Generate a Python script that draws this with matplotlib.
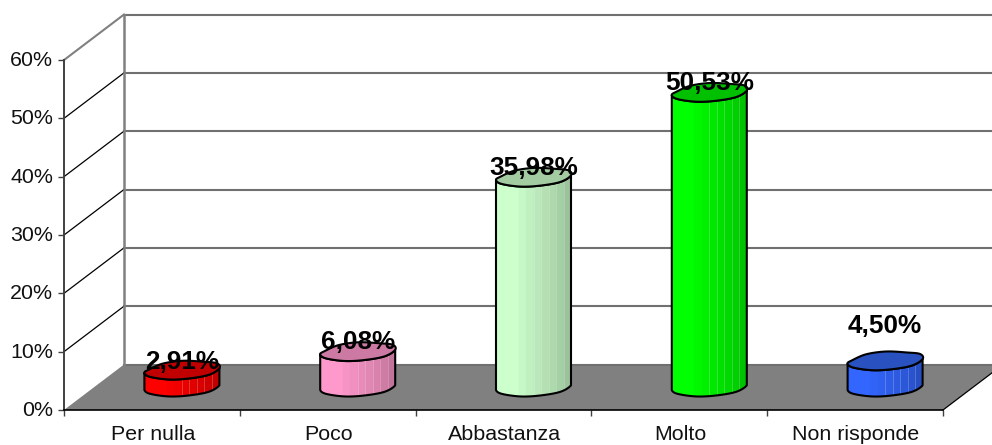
import numpy as np
import matplotlib
matplotlib.use('Agg')
import matplotlib.pyplot as plt
from matplotlib.patches import Polygon
from matplotlib.transforms import ScaledTranslation

plt.rcParams['font.family'] = ['Liberation Sans', 'DejaVu Sans']

categories = ['Per nulla', 'Poco', 'Abbastanza', 'Molto', 'Non risponde']
values = [2.91, 6.08, 35.98, 50.53, 4.50]
value_labels = ['2,91%', '6,08%', '35,98%', '50,53%', '4,50%']
y_ticks = [0, 10, 20, 30, 40, 50, 60]
y_tick_labels = ['0%', '10%', '20%', '30%', '40%', '50%', '60%']

side_colors = ['#ff0000', '#ff99cc', '#ccffcc', '#00ff00', '#3366ff']
top_colors = ['#c00000', '#cc7aa3', '#a3cca3', '#00c000', '#2952c0']
# the last label was moved up by hand in the original
label_lift = [8, 10, 9, 10, 35]

# pixel scale of the picture
px_x = 175.8
px_y = 5.833
depth_x = 60 / px_x
depth_y = 45.5 / px_y

# wobbly outline of a column, left -> front -> right -> back, in pixels
blob_x = np.array([-37.5, -32, -13, 7, 27, 37.5, 35, 22, 1, -19, -33]) / px_x
blob_y = np.array([2.5, 6.5, 9.2, 8.2, 4.5, -2, -7, -8.5, -9.5, -6.7, -0.7]) / px_y * -1
front_end = 5


def smooth(xs, ys, n=12):
    # closed catmull-rom through the points
    t = np.linspace(0, 1, n, endpoint=False)[:, None]
    p = np.column_stack([xs, ys])
    out = []
    for i in range(len(p)):
        p0, p1, p2, p3 = p[i - 1], p[i], p[(i + 1) % len(p)], p[(i + 2) % len(p)]
        out.append(0.5 * (2 * p1 + (p2 - p0) * t + (2 * p0 - 5 * p1 + 4 * p2 - p3) * t ** 2
                          + (3 * p1 - p0 - 3 * p2 + p3) * t ** 3))
    return np.vstack(out)


outline = smooth(blob_x, blob_y)
front = outline[:front_end * 12 + 1]

fig = plt.figure(figsize=(9.92, 4.45), dpi=100)
ax = fig.add_axes([0, 0, 1, 1])
ax.set_xlim(-64 / px_x, (992 - 64) / px_x)
ax.set_ylim(-(445 - 410) / px_y, 410 / px_y)
ax.patch.set_alpha(0)

# floor
ax.add_patch(Polygon([(0, 0), (5, 0), (5 + depth_x, depth_y), (depth_x, depth_y)],
                     facecolor='#808080', edgecolor='none', zorder=1))
ax.plot([5, 5 + depth_x], [0, depth_y], color='black', lw=0.9, zorder=2)

# walls and gridlines
for v in y_ticks:
    top = v == y_ticks[-1]
    ax.plot([depth_x, 5 + depth_x], [v + depth_y] * 2, color='#707070', lw=1.5, zorder=1.5)
    if v > 0:
        ax.plot([0, depth_x], [v, v + depth_y], color='#808080' if top else 'black',
                lw=1.5 if top else 0.9, zorder=1.5)
ax.plot([depth_x, depth_x], [depth_y, 60 + depth_y], color='#808080', lw=1.8, zorder=1.5)

shades = [1, 1, 1, 0.97, 0.94, 0.91, 0.88, 0.85, 0.81, 0.76]
for i, v in enumerate(values):
    cx = i + 0.5 + depth_x / 2
    base = depth_y / 2
    top = v + depth_y / 2
    body_pts = np.vstack([front + [cx, base], (front + [cx, top])[::-1]])
    body = Polygon(body_pts, closed=True, facecolor='none', edgecolor='none', zorder=3)
    ax.add_patch(body)
    edges = np.linspace(cx - 37.5 / px_x, cx + 37.5 / px_x, len(shades) + 1)
    rgb = np.array(matplotlib.colors.to_rgb(side_colors[i]))
    band_colors = [tuple(rgb * s) for s in shades]
    bars = ax.bar(edges[:-1], v + 2 * depth_y, width=np.diff(edges), bottom=-depth_y / 2, align='edge',
                  color=band_colors, edgecolor=band_colors, linewidth=0.3, zorder=3)
    for b in bars:
        b.set_clip_path(body)
    # thin light seams on the shaded half only
    seams = ax.vlines(edges[5:-1], -depth_y / 2, v + 1.5 * depth_y, color='white', alpha=0.22, lw=0.7, zorder=3.2)
    seams.set_clip_path(body)
    ax.add_patch(Polygon(body_pts, closed=True, facecolor='none', edgecolor='black', lw=1.5,
                         joinstyle='round', zorder=4))
    ax.add_patch(Polygon(outline + [cx, top], closed=True, facecolor=top_colors[i], edgecolor='black',
                         lw=1.5, joinstyle='round', zorder=5))
    ax.annotate(value_labels[i], (cx, top), xytext=(0, label_lift[i] * 0.72), textcoords='offset points',
                ha='center', va='center', fontsize=18.8, fontweight='bold', color='black', zorder=6)

# axes
for s in ['top', 'right']:
    ax.spines[s].set_visible(False)
ax.spines['left'].set_position(('data', 0))
ax.spines['left'].set_bounds(0, 60)
ax.spines['left'].set_color('#404040')
ax.spines['left'].set_linewidth(1.4)
ax.spines['bottom'].set_position(('data', 0))
ax.spines['bottom'].set_bounds(0, 5)
ax.spines['bottom'].set_color('black')
ax.spines['bottom'].set_linewidth(1.2)
ax.spines['left'].set_zorder(2.5)
ax.spines['bottom'].set_zorder(2.5)

ax.set_yticks(y_ticks)
ax.set_yticklabels(y_tick_labels, fontsize=15.4, color='#111111')
ax.tick_params(axis='y', length=4.3, width=1, color='#404040', pad=3.5)
ax.set_xticks(range(len(categories) + 1))
ax.set_xticklabels([])
ax.tick_params(axis='x', which='major', length=4.3, width=1, color='#404040')
ax.set_xticks(np.arange(len(categories)) + 0.5, minor=True)
ax.set_xticklabels(categories, minor=True, fontsize=15.4, color='#111111')
ax.tick_params(axis='x', which='minor', length=0, pad=11)

# small nudge of the labels, in pixels
for lab in ax.get_yticklabels():
    lab.set_transform(lab.get_transform() + ScaledTranslation(0, 1.5 / 100, fig.dpi_scale_trans))
for lab in ax.get_xticklabels(minor=True):
    lab.set_transform(lab.get_transform() + ScaledTranslation(1 / 100, 0, fig.dpi_scale_trans))

fig.savefig('out.png', dpi=100, facecolor='white')
